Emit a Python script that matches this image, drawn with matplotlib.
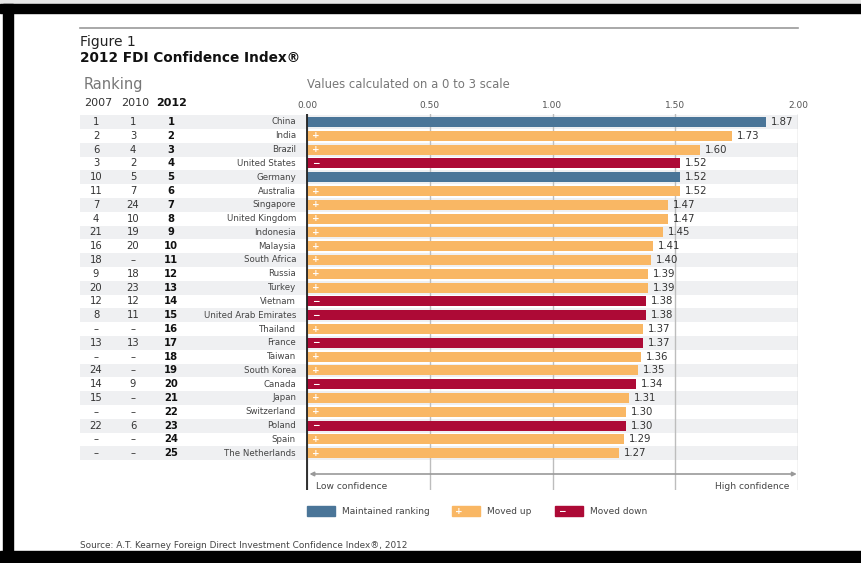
import numpy as np
import matplotlib
matplotlib.use("Agg")
import matplotlib.pyplot as plt
from matplotlib.patches import Rectangle

# ==========================================
# DATA
# ==========================================

countries = ["China", "India", "Brazil", "United States", "Germany", "Australia",
             "Singapore", "United Kingdom", "Indonesia", "Malaysia", "South Africa",
             "Russia", "Turkey", "Vietnam", "United Arab Emirates", "Thailand",
             "France", "Taiwan", "South Korea", "Canada", "Japan", "Switzerland",
             "Poland", "Spain", "The Netherlands"]
scores = [1.87, 1.73, 1.60, 1.52, 1.52, 1.52, 1.47, 1.47, 1.45, 1.41, 1.40, 1.39,
          1.39, 1.38, 1.38, 1.37, 1.37, 1.36, 1.35, 1.34, 1.31, 1.30, 1.30, 1.29, 1.27]
rank_2007 = ["1", "2", "6", "3", "10", "11", "7", "4", "21", "16", "18", "9", "20",
             "12", "8", "–", "13", "–", "24", "14", "15", "–", "22", "–", "–"]
rank_2010 = ["1", "3", "4", "2", "5", "7", "24", "10", "19", "20", "–", "18", "23",
             "12", "11", "–", "13", "–", "–", "9", "–", "–", "6", "–", "–"]
rank_2012 = [str(i) for i in range(1, 26)]
# m = maintained ranking, u = moved up, d = moved down
movement = ["m", "u", "u", "d", "m", "u", "u", "u", "u", "u", "u", "u", "u",
            "d", "d", "u", "d", "u", "u", "d", "u", "u", "d", "u", "u"]

ticks = [0, 0.5, 1.0, 1.5, 2.0]

colors = {"m": "#4a7598", "u": "#f9b764", "d": "#ad0a36"}
signs = {"m": "", "u": "+", "d": "−"}

# ==========================================
# FIGURE / LAYOUT (pixel based)
# ==========================================

W, H = 861, 563
fig = plt.figure(figsize=(W / 100, H / 100), dpi=100)
plt.rcParams["font.family"] = ["DejaVu Sans"]


def fx(px):
    return px / W


def fy(py):
    return 1 - py / H


# frame around the scan
fig.patches.append(Rectangle((0, fy(4)), 1, 4 / H, transform=fig.transFigure,
                             color="#e6e6e6", zorder=0))
fig.patches.append(Rectangle((0, fy(13)), 1, 9 / H, transform=fig.transFigure,
                             color="black", zorder=0))
fig.patches.append(Rectangle((fx(3), 0), 10 / W, fy(4), transform=fig.transFigure,
                             color="black", zorder=0))
fig.patches.append(Rectangle((0, 0), 1, 12 / H, transform=fig.transFigure,
                             color="black", zorder=0))

# axes from x=80px to 798px, zero at 307px
left_px, right_px, zero_px = 80, 798, 307
unit = (right_px - zero_px) / 2.0
top_px, bot_px, row0_px, step = 114, 490, 122, 13.8

ax = fig.add_axes([fx(left_px), fy(bot_px), (right_px - left_px) / W,
                   (bot_px - top_px) / H])
ax.set_xlim(-(zero_px - left_px) / unit, 2.0)
ax.set_ylim((bot_px - row0_px) / step, -(row0_px - top_px) / step)
for s in ax.spines.values():
    s.set_visible(False)

y = np.arange(len(countries))

# alternating row bands
for i in y[::2]:
    ax.axhspan(i - 0.5, i + 0.5, color="#eff0f2", zorder=0, lw=0)

# grid lines
for t in ticks:
    ax.axvline(t, color="#bdbdbd", lw=1.0, zorder=1)
ax.axvline(0, color="#222222", lw=1.3, zorder=3)

# bars
ax.barh(y, scores, height=0.72, color=[colors[m] for m in movement], zorder=2)

for i in y:
    ax.text(scores[i] + 0.02, i, f"{scores[i]:.2f}", va="center", ha="left",
            fontsize=7.3, color="#333333", zorder=4)
    if signs[movement[i]]:
        ax.text(0.035, i, signs[movement[i]], va="center", ha="center",
                fontsize=6.5, color="white", fontweight="bold", zorder=4)
    ax.text((296 - zero_px) / unit, i, countries[i], va="center", ha="right",
            fontsize=6.2, color="#444444")
    ax.text((96 - zero_px) / unit, i, rank_2007[i], va="center", ha="center",
            fontsize=7.2, color="#333333")
    ax.text((133 - zero_px) / unit, i, rank_2010[i], va="center", ha="center",
            fontsize=7.2, color="#333333")
    ax.text((171 - zero_px) / unit, i, rank_2012[i], va="center", ha="center",
            fontsize=7.2, color="#111111", fontweight="bold")

# ticks on top
ax.xaxis.tick_top()
ax.set_xticks(ticks)
ax.set_xticklabels([f"{t:.2f}" for t in ticks], fontsize=6.5, color="#555555")
ax.tick_params(axis="x", length=0, pad=3)
ax.set_yticks([])

# confidence arrow
arrow_y = (474 - row0_px) / step
ax.annotate("", xy=(1.995, arrow_y), xytext=(0.01, arrow_y),
            arrowprops=dict(arrowstyle="<|-|>", color="#999999", lw=1.2,
                            mutation_scale=6, shrinkA=0, shrinkB=0))
ax.text(0.035, (487 - row0_px) / step, "Low confidence", fontsize=6.6,
        color="#444444", va="center", ha="left")
ax.text(1.965, (487 - row0_px) / step, "High confidence", fontsize=6.6,
        color="#444444", va="center", ha="right")

# ==========================================
# HEADER TEXT
# ==========================================

fig.add_artist(plt.Line2D([fx(80), fx(798)], [fy(28), fy(28)],
                          transform=fig.transFigure, color="#9a9a9a", lw=1.2))
fig.text(fx(80), fy(42), "Figure 1", fontsize=10, color="#222222", va="center")
fig.text(fx(80), fy(58), "2012 FDI Confidence Index®", fontsize=9.8,
         fontweight="bold", color="#111111", va="center")
fig.text(fx(84), fy(85), "Ranking", fontsize=10.5, color="#777777", va="center")
fig.text(fx(307), fy(85), "Values calculated on a 0 to 3 scale", fontsize=8.4,
         color="#777777", va="center")
fig.text(fx(98), fy(103), "2007", fontsize=8, color="#333333", va="center", ha="center")
fig.text(fx(135), fy(103), "2010", fontsize=8, color="#333333", va="center", ha="center")
fig.text(fx(172), fy(103), "2012", fontsize=8, color="#111111", va="center",
         ha="center", fontweight="bold")

# ==========================================
# LEGEND
# ==========================================

legend_items = [("m", "Maintained ranking", 307, 342),
                ("u", "Moved up", 452, 487),
                ("d", "Moved down", 555, 590)]
for key, label, px, tx in legend_items:
    fig.patches.append(Rectangle((fx(px), fy(516)), 28 / W, 10 / H,
                                 transform=fig.transFigure, color=colors[key]))
    if signs[key]:
        fig.text(fx(px + 7), fy(511), signs[key], fontsize=6.5, color="white",
                 fontweight="bold", va="center", ha="center")
    fig.text(fx(tx), fy(511), label, fontsize=6.5, color="#444444", va="center")

fig.text(fx(80), fy(546), "Source: A.T. Kearney Foreign Direct Investment Confidence Index®, 2012",
         fontsize=6.4, color="#444444", va="center")

plt.savefig("out.png", dpi=100)
